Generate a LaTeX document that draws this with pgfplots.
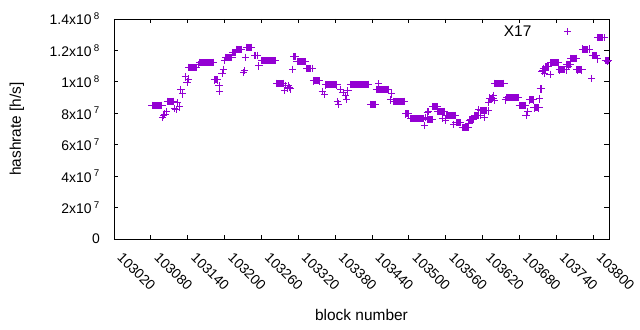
\documentclass[border=0pt]{standalone}
\usepackage{fontspec}
\setmainfont{Liberation Sans}
\usepackage{pgfplots}
\usepackage{pgfplotstable}
\pgfplotsset{compat=1.18}
\definecolor{hr}{HTML}{9400D3}

\pgfplotstableread{
xs xe y
103082 103098 8.51e7
103107 103117 8.77e7
103142 103154 1.093e8
103160 103182 1.125e8
103183 103188 1.012e8
103202 103212 1.157e8
103213 103218 1.186e8
103219 103227 1.208e8
103236 103244 1.220e8
103249 103253 1.168e8
103260 103283 1.135e8
103285 103296 9.91e7
103313 103316 1.160e8
103318 103332 1.127e8
103334 103343 1.087e8
103345 103354 1.006e8
103365 103383 9.80e7
103405 103434 9.85e7
103438 103446 8.57e7
103447 103467 9.53e7
103475 103493 8.77e7
103495 103500 7.96e7
103503 103524 7.67e7
103531 103538 7.61e7
103539 103546 8.42e7
103547 103558 8.11e7
103562 103576 7.86e7
103577 103584 7.40e7
103587 103597 7.10e7
103600 103606 7.58e7
103607 103616 7.87e7
103617 103629 8.15e7
103632 103637 8.97e7
103640 103655 9.91e7
103659 103678 9.01e7
103680 103690 8.50e7
103697 103703 8.85e7
103704 103712 8.34e7
103714 103716 9.55e7
103718 103722 1.070e8
103723 103728 1.097e8
103731 103744 1.122e8
103745 103756 1.076e8
103757 103763 1.110e8
103764 103773 1.150e8
103774 103782 1.076e8
103783 103794 1.209e8
103799 103806 1.166e8
103808 103818 1.281e8
103820 103825 1.136e8
}\runs

\pgfplotstableread{
x y
103099 7.75e7
103101 7.85e7
103103 7.95e7
103105 8.10e7
103119 8.30e7
103121 8.26e7
103124 8.66e7
103127 8.40e7
103129 9.53e7
103132 9.23e7
103136 1.031e8
103139 9.99e7
103141 1.018e8
103157 1.108e8
103191 9.74e7
103192 9.38e7
103196 1.055e8
103198 1.080e8
103200 1.137e8
103231 1.058e8
103232 1.071e8
103234 1.157e8
103256 1.101e8
103298 9.44e7
103300 9.76e7
103302 9.60e7
103304 9.75e7
103306 9.65e7
103308 9.55e7
103311 1.080e8
103359 9.38e7
103363 9.21e7
103384 8.74e7
103386 8.59e7
103389 9.53e7
103393 9.31e7
103397 9.10e7
103399 8.89e7
103401 9.42e7
103451 9.87e7
103471 8.85e7
103472 9.23e7
103525 7.21e7
103528 7.75e7
103530 8.08e7
103532 8.10e7
103555 7.68e7
103560 7.57e7
103573 7.30e7
103598 7.32e7
103599 7.57e7
103614 8.21e7
103623 7.75e7
103630 8.68e7
103638 9.10e7
103639 8.82e7
103657 8.85e7
103691 7.89e7
103694 8.10e7
103713 8.91e7
103717 1.065e8
103719 1.086e8
103721 1.055e8
103730 1.048e8
103759 1.112e8
103760 1.097e8
103798 1.023e8
103807 1.146e8
103824 1.129e8
}\singles

\begin{document}
\begin{tikzpicture}
\path[use as bounding box] (-114bp,-91bp) rectangle (526bp,239bp);
\begin{axis}[
  at={(0,0)}, anchor=south west,
  scale only axis, width=495bp, height=220bp,
  xmin=103020, xmax=103826, ymin=0, ymax=1.4e8,
  clip=false,
  scaled x ticks=false, scaled y ticks=false,
  xtick={103020,103080,103140,103200,103260,103320,103380,103440,103500,103560,103620,103680,103740,103800},
  xticklabels={103020,103080,103140,103200,103260,103320,103380,103440,103500,103560,103620,103680,103740,103800},
  ytick={0,2e7,4e7,6e7,8e7,1e8,1.2e8,1.4e8},
  yticklabels={0,2x10\,\textsuperscript{7},4x10\,\textsuperscript{7},6x10\,\textsuperscript{7},8x10\,\textsuperscript{7},1x10\,\textsuperscript{8},1.2x10\,\textsuperscript{8},1.4x10\,\textsuperscript{8}},
  tick align=inside, major tick length=4.5bp,
  tick style={black, line width=0.8bp},
  axis line style={black, line width=0.8bp},
  tick label style={font=\fontsize{14}{16}\selectfont},
  xticklabel style={yshift=-16bp, xshift=6bp, rotate=-45, anchor=west, inner sep=0pt},
  yticklabel style={inner sep=0pt, xshift=-14bp},
  xlabel={block number},
  ylabel={hashrate [h/s]},
  label style={font=\fontsize{15.5}{18}\selectfont},
  xlabel style={at={(axis description cs:0.5,-0.345)}, anchor=center},
  ylabel style={at={(axis description cs:-0.196,0.5)}, anchor=center},
  legend plot pos=right,
  legend image code/.code={\path (0bp,0bp) (40bp,0bp); \draw[#1] plot coordinates {(36bp,0bp)};},
  legend style={draw=none, fill=none, at={(rel axis cs:0.9253,0.9423)}, anchor=east, inner sep=0pt, font=\fontsize{15.5}{18}\selectfont, nodes={inner sep=0pt}},
  mark size=3.6bp,
]
\addplot[draw=none, mark=none, forget plot,
  error bars/.cd, x dir=both, x explicit, error mark=none,
  error bar style={line width=7bp, draw=hr}]
  table[x expr={(\thisrow{xs}+\thisrow{xe})/2}, y=y, x error expr={(\thisrow{xe}-\thisrow{xs})/2}] {\runs};
\addplot[only marks, mark=+, color=hr, mark options={line width=1bp}, forget plot] table[x=xs, y=y] {\runs};
\addplot[only marks, mark=+, color=hr, mark options={line width=1bp}, forget plot] table[x=xe, y=y] {\runs};
\addplot[only marks, mark=+, color=hr, mark options={line width=1bp}] table[x=x, y=y] {\singles};
\addlegendentry{X17}
\end{axis}
\end{tikzpicture}
\end{document}
